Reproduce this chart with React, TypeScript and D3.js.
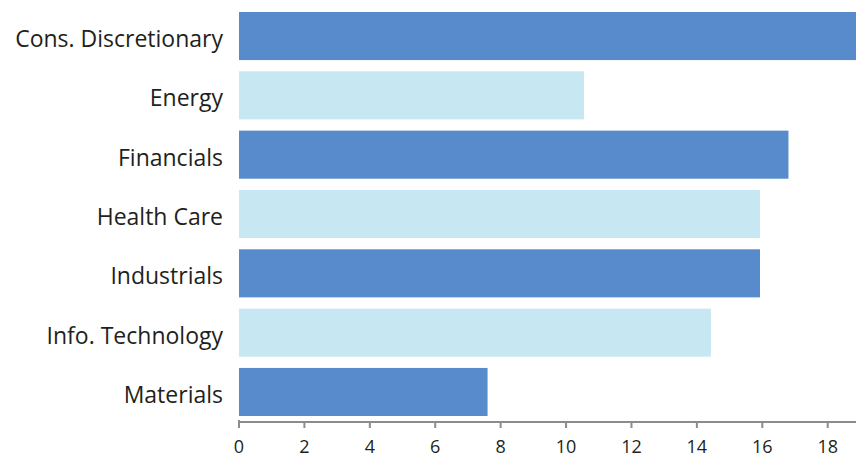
import React from "react";
import * as d3 from "d3";

const categories = [
  "Cons. Discretionary",
  "Energy",
  "Financials",
  "Health Care",
  "Industrials",
  "Info. Technology",
  "Materials",
];
const values = [19.4, 10.55, 16.8, 15.93, 15.93, 14.43, 7.6];
const barColors = ["#588BCB", "#C7E8F3"];
const tickValues = [0, 2, 4, 6, 8, 10, 12, 14, 16, 18];

const W = 856;
const H = 458;

export default function App() {
  const x = d3.scaleLinear().domain([0, 18]).range([239, 827.7]);
  const y = d3
    .scaleBand<string>()
    .domain(categories)
    .range([12, 416])
    .paddingInner(0.19)
    .paddingOuter(0);
  const axisY = 422;
  const font = "'Open Sans', 'Noto Sans', sans-serif";

  return (
    <svg
      width={W}
      height={H}
      style={{ position: "absolute", left: 0, top: 0, background: "#fff" }}
    >
      <defs>
        <clipPath id="plotclip">
          <rect x={0} y={0} width={W} height={H} />
        </clipPath>
      </defs>
      <g clipPath="url(#plotclip)">
        {categories.map((c, i) => (
          <rect
            key={c}
            x={x(0)}
            y={y(c)}
            width={x(values[i]) - x(0)}
            height={y.bandwidth()}
            fill={barColors[i % 2]}
          />
        ))}
      </g>
      {categories.map((c) => (
        <text
          key={c}
          x={223}
          y={(y(c) as number) + y.bandwidth() / 2 + 11}
          textAnchor="end"
          fontFamily={font}
          fontSize={23}
          fill="#231f20"
        >
          {c}
        </text>
      ))}
      <line
        x1={x(0)}
        x2={W}
        y1={axisY}
        y2={axisY}
        stroke="#8c8c8c"
        strokeWidth={2}
      />
      {tickValues.map((t) => (
        <g key={t}>
          <line
            x1={x(t)}
            x2={x(t)}
            y1={t === 0 ? axisY - 2 : axisY}
            y2={axisY + 6}
            stroke="#8c8c8c"
            strokeWidth={2}
          />
          <text
            x={x(t)}
            y={452.5}
            textAnchor="middle"
            fontFamily={font}
            fontSize={18}
            fill="#231f20"
          >
            {t}
          </text>
        </g>
      ))}
    </svg>
  );
}
